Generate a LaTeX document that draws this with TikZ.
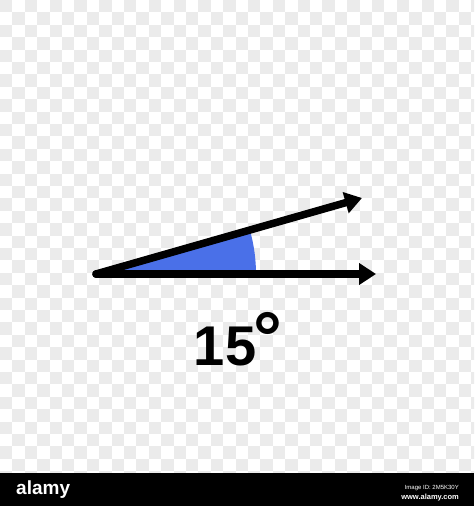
\documentclass[tikz,border=0pt]{standalone}
\usepackage{fontspec}
\setmainfont{Liberation Sans}
\usetikzlibrary{arrows.meta}
\definecolor{checkgray}{HTML}{EBEBEB}
\definecolor{angleblue}{HTML}{4A70E8}

\begin{document}
\begin{tikzpicture}[
    x = 1pt, y = -1pt,
    ray/.style = {line width=7.5pt, line cap=round, -{Triangle[length=17pt, width=21pt]}},
    degtext/.style = {font=\bfseries\fontsize{56}{56}\selectfont, inner sep=0pt},
    bartext/.style = {white, inner sep=0pt}
]
\useasboundingbox (0,0) rectangle (474,506);

% checker background
\fill[white] (0,0) rectangle (474,473);
\begin{scope}
\clip (0,0) rectangle (474,473);
\foreach \i in {0,...,38}
  \foreach \j in {0,...,38} {
    \pgfmathtruncatemacro\odd{mod(\i+\j,2)}
    \ifnum\odd=0
      \fill[checkgray] (\i*12.4,\j*12.4) rectangle ++(12.4,12.4);
    \fi
  }
\end{scope}

% angle
\coordinate (O) at (96,274);
\coordinate (A) at (376,274);
\coordinate (B) at (362,198);
\fill[angleblue] (O) -- ++(160,0) arc[start angle=0, end angle=-16, radius=160] -- cycle;
\draw[ray] (O) -- (A);
\draw[ray] (O) -- (B);

\node (deg) [degtext, anchor=base] at (238,365) {15\kern-3pt\raisebox{3pt}{\fontsize{72}{72}\selectfont °}};

% bottom bar
\fill[black] (0,473) rectangle (474,506);
\node (brand) [bartext, anchor=base west, font=\bfseries\fontsize{19}{19}\selectfont] at (16,494) {alamy};
\node (imgid) [bartext, anchor=base east, font=\fontsize{6}{6}\selectfont] at (459,489) {Image ID: 2M5K30Y};
\node (site) [bartext, anchor=base east, font=\bfseries\fontsize{7.5}{7.5}\selectfont] at (459,499) {www.alamy.com};
\end{tikzpicture}
\end{document}
